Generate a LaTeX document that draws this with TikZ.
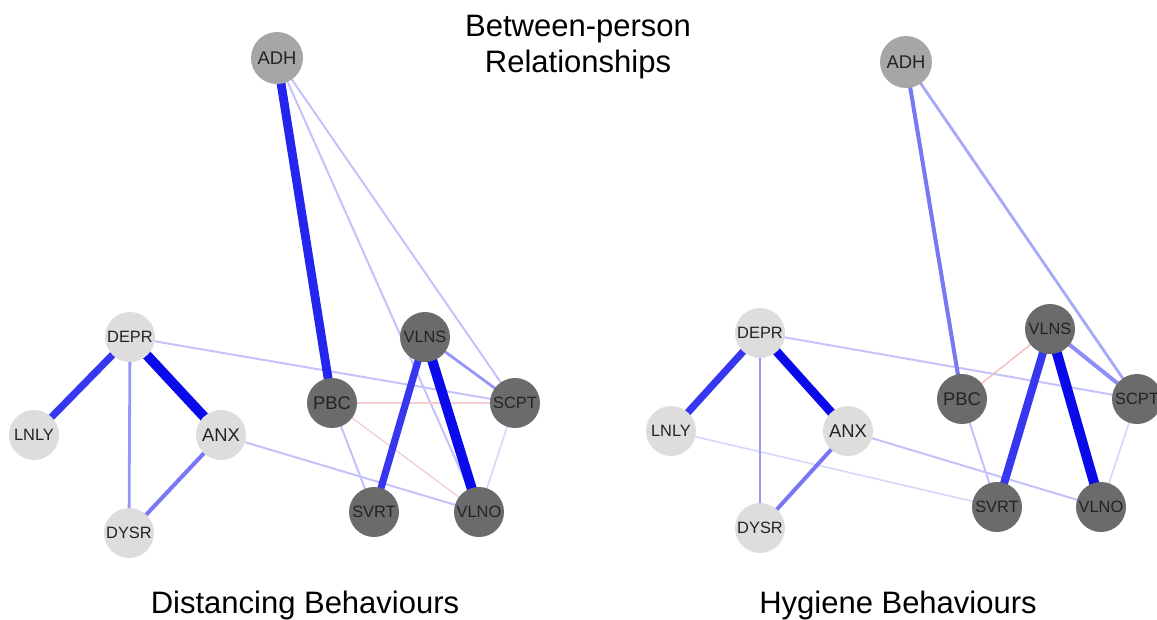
\documentclass[tikz,border=0pt]{standalone}
\usepackage{fontspec}
\setmainfont{Liberation Sans}
\usetikzlibrary{backgrounds}
\definecolor{lightnode}{RGB}{221,221,221}
\definecolor{midnode}{RGB}{166,166,166}
\definecolor{darknode}{RGB}{107,107,107}
\definecolor{labelc}{RGB}{35,35,35}
\definecolor{ea}{RGB}{10,10,235}
\definecolor{eb}{RGB}{55,55,240}
\definecolor{ec}{RGB}{120,120,245}
\definecolor{ed}{RGB}{150,150,248}
\definecolor{ee}{RGB}{195,195,250}
\definecolor{ef}{RGB}{215,215,252}
\definecolor{neg}{RGB}{245,205,205}
\begin{document}
\begin{tikzpicture}[x=0.75pt,y=-0.75pt,
  nd/.style={circle, inner sep=0pt, minimum size=37.5pt, text=labelc},
  lt/.style={nd, fill=lightnode},
  md/.style={nd, fill=midnode, minimum size=39pt},
  dk/.style={nd, fill=darknode},
  four/.style={font=\fontsize{12.3}{13}\selectfont},
  three/.style={font=\fontsize{13.8}{15}\selectfont},
  title/.style={font=\fontsize{23.25}{26}\selectfont, anchor=base, text=black},
  wa/.style={draw=ea, line width=7.5pt},
  wb/.style={draw=eb, line width=5.4pt},
  wc/.style={draw=ec, line width=3pt},
  wd/.style={draw=ed, line width=2.1pt},
  we/.style={draw=ee, line width=1.5pt},
  wf/.style={draw=ef, line width=1.2pt},
  wn/.style={draw=neg, line width=1pt}]
\useasboundingbox (0,0) rectangle (1157,619);

% titles
\node[title] (t1) at (578,36) {Between-person};
\node[title] (t2) at (578,72) {Relationships};
\node[title] (t3) at (305,613) {Distancing Behaviours};
\node[title] (t4) at (898,613) {Hygiene Behaviours};

% left network
\node[md,three] (lADH) at (277,58) {ADH};
\node[lt,four] (lDEPR) at (130,337) {DEPR};
\node[lt,four] (lLNLY) at (34,435) {LNLY};
\node[lt,three] (lANX) at (221,435) {ANX};
\node[lt,four] (lDYSR) at (129,533) {DYSR};
\node[dk,three] (lPBC) at (332,403) {PBC};
\node[dk,four] (lVLNS) at (425,337) {VLNS};
\node[dk,four] (lSCPT) at (515,403) {SCPT};
\node[dk,four] (lSVRT) at (374,512) {SVRT};
\node[dk,four] (lVLNO) at (479,512) {VLNO};

% right network
\node[md,three] (rADH) at (906,62) {ADH};
\node[lt,four] (rDEPR) at (760,333) {DEPR};
\node[lt,four] (rLNLY) at (671,431) {LNLY};
\node[lt,three] (rANX) at (848,431) {ANX};
\node[lt,four] (rDYSR) at (760,528) {DYSR};
\node[dk,three] (rPBC) at (962,399) {PBC};
\node[dk,four] (rVLNS) at (1050,329) {VLNS};
\node[dk,four] (rSCPT) at (1137,399) {SCPT};
\node[dk,four] (rSVRT) at (997,507) {SVRT};
\node[dk,four] (rVLNO) at (1101,507) {VLNO};

\begin{scope}[on background layer]
% left edges
\draw[we] (lDEPR.center) -- (lSCPT.center);
\draw[we] (lANX.center) -- (lVLNO.center);
\draw[we] (lADH.center) -- (lVLNO.center);
\draw[we] (lADH.center) -- (lSCPT.center);
\draw[we] (lPBC.center) -- (lSVRT.center);
\draw[wf] (lSCPT.center) -- (lVLNO.center);
\draw[wn] (lPBC.center) -- (lSCPT.center);
\draw[wn] (lPBC.center) -- (lVLNO.center);
\draw[wd] (lVLNS.center) -- (lSCPT.center);
\draw[wd] (lDEPR.center) -- (lDYSR.center);
\draw[wc] (lANX.center) -- (lDYSR.center);
\draw[wb] (lDEPR.center) -- (lLNLY.center);
\draw[wa, line width=6.6pt, draw=eb!60!ea] (lADH.center) -- (lPBC.center);
\draw[wa] (lDEPR.center) -- (lANX.center);
\draw[wb] (lVLNS.center) -- (lSVRT.center);
\draw[wa] (lVLNS.center) -- (lVLNO.center);

% right edges
\draw[we] (rDEPR.center) -- (rSCPT.center);
\draw[we] (rANX.center) -- (rVLNO.center);
\draw[wf] (rLNLY.center) -- (rSVRT.center);
\draw[we] (rPBC.center) -- (rSVRT.center);
\draw[wf] (rSCPT.center) -- (rVLNO.center);
\draw[wn, draw=neg!90!red] (rPBC.center) -- (rVLNS.center);
\draw[wd, draw=ed!60!ee] (rADH.center) -- (rSCPT.center);
\draw[wc, draw=ed!70!ec] (rVLNS.center) -- (rSCPT.center);
\draw[wc] (rADH.center) -- (rPBC.center);
\draw[wd] (rDEPR.center) -- (rDYSR.center);
\draw[wc] (rANX.center) -- (rDYSR.center);
\draw[wb] (rDEPR.center) -- (rLNLY.center);
\draw[wa, line width=6.6pt] (rDEPR.center) -- (rANX.center);
\draw[wb, line width=6pt] (rVLNS.center) -- (rSVRT.center);
\draw[wa] (rVLNS.center) -- (rVLNO.center);
\end{scope}
\end{tikzpicture}
\end{document}
